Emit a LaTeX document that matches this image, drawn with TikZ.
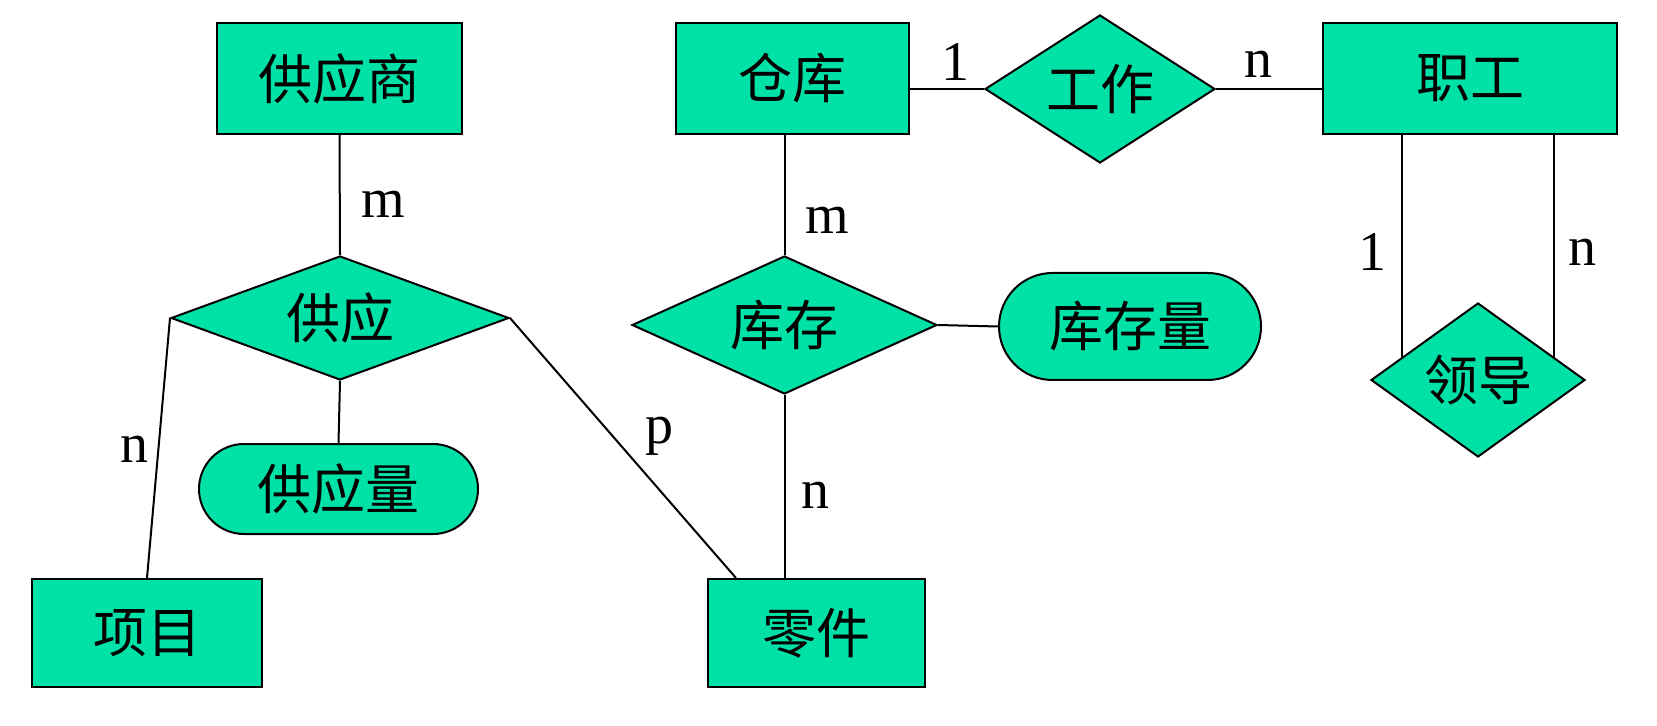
\documentclass[tikz,border=0pt]{standalone}
\usepackage{fontspec}
\setmainfont{Liberation Serif}
\newfontfamily\cjk{Noto Sans CJK SC}
\usetikzlibrary{shapes.geometric,shapes.misc,calc}
\definecolor{erfill}{RGB}{0,225,168}
\tikzset{
  cjkfont/.style={font=\cjk\fontsize{27}{30}\selectfont},
  base/.style={draw=black,line width=1pt,fill=erfill,inner sep=0pt,cjkfont},
  ent/.style={base,rectangle},
  rel/.style={base,diamond,label={[cjkfont,inner sep=0pt]center:#1}},
  attr/.style={base,rounded rectangle},
  card/.style={font=\fontsize{28}{30}\selectfont,inner sep=0pt},
  conn/.style={line width=1pt}
}
\begin{document}
\begin{tikzpicture}[x=0.5pt,y=-0.5pt]
\useasboundingbox (0,0) rectangle (1657,726);
% entities
\node[ent,minimum width=122.5pt,minimum height=55.5pt] (gys) at (339.5,78.5) {供应商};
\node[ent,minimum width=115pt,minimum height=54pt] (xm) at (147,633) {项目};
\node[ent,minimum width=116.5pt,minimum height=55.5pt] (ck) at (792.5,78.5) {仓库};
\node[ent,minimum width=147pt,minimum height=55.5pt] (zg) at (1470,78.5) {职工};
\node[ent,minimum width=108.5pt,minimum height=54pt] (lj) at (816.5,633) {零件};
% relationships
\node[rel=供应,minimum width=169pt,minimum height=62pt] (gy) at (340,318) {};
\node[rel=工作,minimum width=115pt,minimum height=74pt] (gz) at (1100,89) {};
\node[rel=库存,minimum width=152.5pt,minimum height=69pt] (kc) at (784.5,325) {};
\node[rel=领导,minimum width=107pt,minimum height=77pt] (ld) at (1478,380) {};
% attributes
\node[attr,minimum width=139.5pt,minimum height=45pt] (gyl) at (338.5,489) {供应量};
\node[attr,minimum width=131pt,minimum height=53.5pt] (kcl) at (1130,326.5) {库存量};
% helper points
\coordinate (ljp) at ($(lj.north west)+(29,0)$);
\coordinate (ldl) at ($(ld.west)!0.3!(ld.north)$);
\coordinate (ldr) at ($(ld.east)!0.3!(ld.north)$);
% connectors
\draw[conn] (gys.south) -- (gy.north);
\draw[conn] (gy.south) -- (gyl.north);
\draw[conn] (gy.west) -- (xm.north);
\draw[conn] (gy.east) -- (ljp);
\draw[conn] (kc.north) -- (kc.north |- ck.south);
\draw[conn] (kc.south) -- (kc.south |- lj.north);
\draw[conn] (kc.east) -- (kcl.west);
\draw[conn] (gz.west) -- (ck.east |- gz.west);
\draw[conn] (gz.east) -- (zg.west |- gz.east);
\draw[conn] (ldl |- zg.south) -- (ldl);
\draw[conn] (ldr |- zg.south) -- (ldr);
% cardinalities
\node[card] (c1) at (383,204) {m};
\node[card] (c2) at (134,449) {n};
\node[card] (c3) at (659,436) {p};
\node[card] (c4) at (827,220) {m};
\node[card] (c5) at (815,495) {n};
\node[card] (c6) at (955,62) {1};
\node[card] (c7) at (1258,64) {n};
\node[card] (c8) at (1372,252) {1};
\node[card] (c9) at (1582,252) {n};
\end{tikzpicture}
\end{document}
